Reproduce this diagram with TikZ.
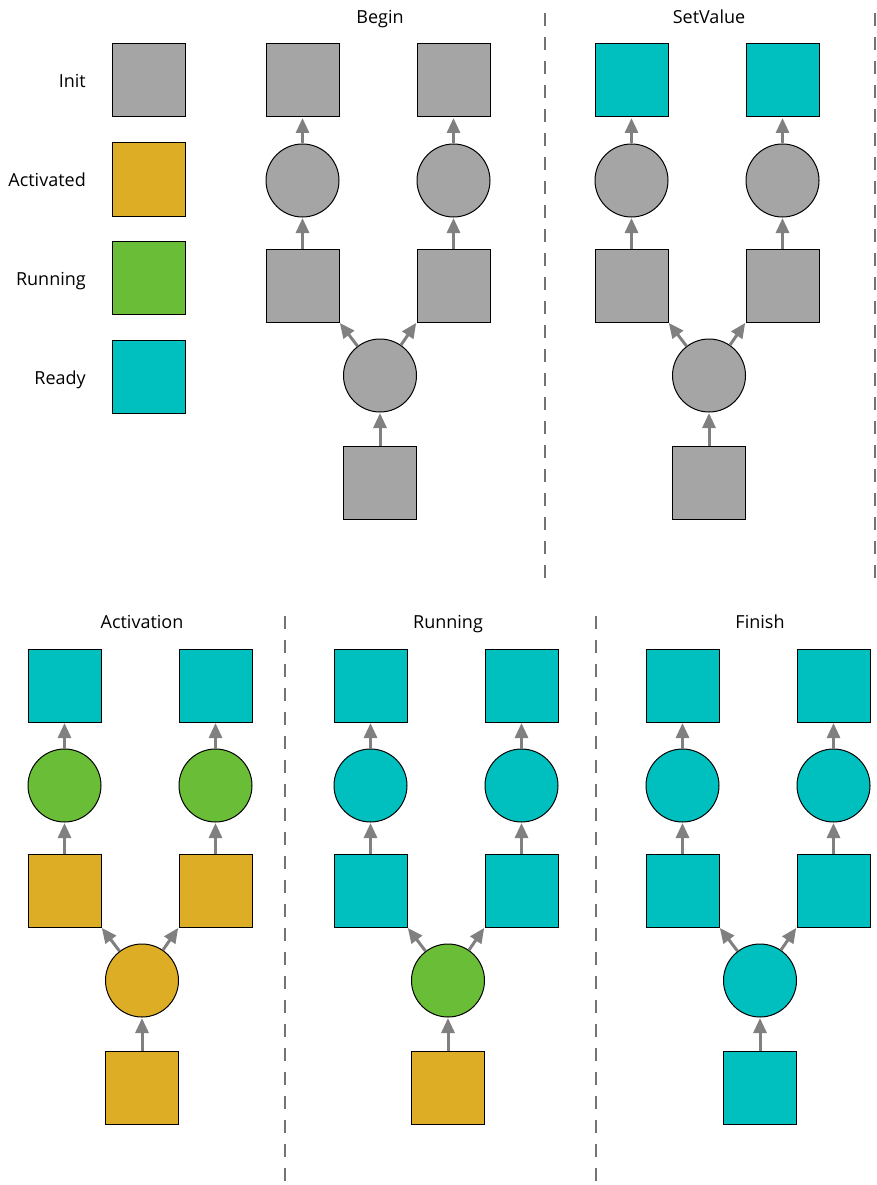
\documentclass[tikz,border=0pt]{standalone}
\usepackage{fontspec}
\setmainfont{Open Sans}
\usepackage{tikz}
\usetikzlibrary{arrows.meta,positioning}

\definecolor{initgray}{HTML}{A5A5A5}
\definecolor{actgold}{HTML}{DDAD26}
\definecolor{rungreen}{HTML}{6ABD36}
\definecolor{readycyan}{HTML}{00BFBF}
\definecolor{linkgray}{HTML}{808080}

\tikzset{
  box/.style={draw=black, line width=1pt, minimum size=73pt, inner sep=0pt},
  task/.style={draw=black, line width=1pt, circle, minimum size=73pt, inner sep=0pt},
  link/.style={draw=linkgray, line width=3pt, -{Triangle[length=15pt,width=13pt]}, shorten >=0.5pt},
  sep/.style={draw=linkgray!90!black, line width=2.8pt, dash pattern=on 13pt off 11pt},
  lbl/.style={font=\fontsize{18}{22}\selectfont, inner sep=0pt}
}

% one stage: #1 prefix, #2 root x, #3 top y, #4 title,
% #5 top boxes, #6 upper tasks, #7 middle boxes, #8 root task, #9 bottom box
\newcommand{\stagetree}[9]{
  \node[lbl, anchor=base] (#1title) at (#2,#3-57) {#4};
  \node[box, fill=#5] (#1tl) at (#2-77.5,#3) {};
  \node[box, fill=#5] (#1tr) at (#2+73.5,#3) {};
  \node[task, fill=#6] (#1cl) at (#2-77.5,#3+100) {};
  \node[task, fill=#6] (#1cr) at (#2+73.5,#3+100) {};
  \node[box, fill=#7] (#1ml) at (#2-77.5,#3+205) {};
  \node[box, fill=#7] (#1mr) at (#2+73.5,#3+205) {};
  \node[task, fill=#8] (#1root) at (#2,#3+295) {};
  \node[box, fill=#9] (#1bot) at (#2,#3+402.5) {};
  \draw[link] (#1cl) -- (#1tl);
  \draw[link] (#1cr) -- (#1tr);
  \draw[link] (#1ml) -- (#1cl);
  \draw[link] (#1mr) -- (#1cr);
  \draw[link] (#1root) -- (#1ml.south east);
  \draw[link] (#1root) -- (#1mr.south west);
  \draw[link] (#1bot) -- (#1root);
}

\begin{document}
\begin{tikzpicture}[x=1pt,y=-1pt]
  \useasboundingbox (0,0) rectangle (877,1185);

  % legend
  \node[box, fill=initgray] (leginit) at (148.5,80.5) {};
  \node[box, fill=actgold] (legact) at (148.5,179.5) {};
  \node[box, fill=rungreen] (legrun) at (148.5,277.5) {};
  \node[box, fill=readycyan] (legready) at (148.5,376.5) {};
  \node[lbl, anchor=base east] (txtinit) at (86,87.5) {Init};
  \node[lbl, anchor=base east] (txtact) at (86,186.5) {Activated};
  \node[lbl, anchor=base east] (txtrun) at (86,285) {Running};
  \node[lbl, anchor=base east] (txtready) at (86,384) {Ready};

  % stages
  \stagetree{b}{380}{80.5}{Begin}{initgray}{initgray}{initgray}{initgray}{initgray}
  \stagetree{s}{709}{80.5}{SetValue}{readycyan}{initgray}{initgray}{initgray}{initgray}
  \stagetree{a}{142}{685.5}{Activation}{readycyan}{rungreen}{actgold}{actgold}{actgold}
  \stagetree{r}{448}{685.5}{Running}{readycyan}{readycyan}{readycyan}{rungreen}{actgold}
  \stagetree{f}{760}{685.5}{Finish}{readycyan}{readycyan}{readycyan}{readycyan}{readycyan}

  % separators
  \draw[sep] (545,13) -- (545,578);
  \draw[sep] (875,13) -- (875,578);
  \draw[sep] (285,616) -- (285,1185);
  \draw[sep] (596,616) -- (596,1185);
\end{tikzpicture}
\end{document}
